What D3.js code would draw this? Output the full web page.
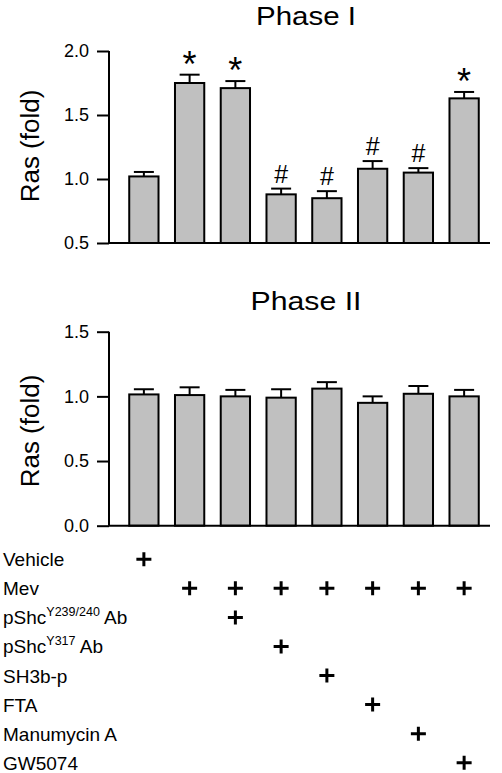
<!DOCTYPE html>
<html>
<head>
<meta charset="utf-8">
<script src="https://cdn.jsdelivr.net/npm/d3@7"></script>
<style>
  html, body { margin: 0; padding: 0; background: #fff; }
  svg { display: block; }
  svg text { font-family: "Liberation Sans", Arial, sans-serif; fill: #000; }
</style>
</head>
<body>
<svg id="chart" width="502" height="773"></svg>
<script>
// ---- data ----
const groups = ["G1", "G2", "G3", "G4", "G5", "G6", "G7", "G8"];
const phase1Values = [1.02, 1.75, 1.71, 0.88, 0.85, 1.08, 1.05, 1.63];
const phase1Errors = [0.035, 0.065, 0.055, 0.045, 0.055, 0.06, 0.035, 0.05];
const phase1Marks = ["", "*", "*", "#", "#", "#", "#", "*"];
const phase2Values = [1.015, 1.01, 1.0, 0.99, 1.06, 0.95, 1.02, 1.0];
const phase2Errors = [0.04, 0.06, 0.05, 0.065, 0.05, 0.05, 0.06, 0.05];
const phase1Ticks = [0.5, 1.0, 1.5, 2.0];
const phase2Ticks = [0.0, 0.5, 1.0, 1.5];
const treatments = ["Vehicle", "Mev", "pShc239", "pShc317", "SH3b-p", "FTA", "Manumycin A", "GW5074"];
const treatmentMatrix = [
  [1, 0, 0, 0, 0, 0, 0, 0],
  [0, 1, 1, 1, 1, 1, 1, 1],
  [0, 0, 1, 0, 0, 0, 0, 0],
  [0, 0, 0, 1, 0, 0, 0, 0],
  [0, 0, 0, 0, 1, 0, 0, 0],
  [0, 0, 0, 0, 0, 1, 0, 0],
  [0, 0, 0, 0, 0, 0, 1, 0],
  [0, 0, 0, 0, 0, 0, 0, 1]
];

const svg = d3.select("#chart");
const axisLeft = 109, axisRight = 490;
const x = d3.scaleBand().domain(groups).range([121, 487]).paddingInner(0.36).paddingOuter(0.18);

function panel(opts) {
  const { title, values, errors, marks, ticks, domain, yTop, yBottom } = opts;
  const y = d3.scaleLinear().domain(domain).range([yBottom, yTop]);
  const g = svg.append("g");

  // title
  g.append("text")
    .attr("x", 306).attr("y", opts.titleY)
    .attr("text-anchor", "middle")
    .attr("font-size", 26)
    .attr("textLength", opts.titleLen).attr("lengthAdjust", "spacingAndGlyphs")
    .text(title);

  // y label
  g.append("text")
    .attr("transform", `translate(39,${opts.labelY}) rotate(-90)`)
    .attr("text-anchor", "middle")
    .attr("font-size", 26)
    .text("Ras (fold)");

  // bars
  g.selectAll("rect.bar").data(values).join("rect")
    .attr("class", "bar")
    .attr("x", (d, i) => x(groups[i]))
    .attr("width", x.bandwidth())
    .attr("y", d => y(d))
    .attr("height", d => y(domain[0]) - y(d))
    .attr("fill", "#c0c0c0")
    .attr("stroke", "#000")
    .attr("stroke-width", 2);

  // error bars (upper)
  const cx = i => x(groups[i]) + x.bandwidth() / 2;
  g.selectAll("line.err").data(values).join("line")
    .attr("class", "err")
    .attr("x1", (d, i) => cx(i)).attr("x2", (d, i) => cx(i))
    .attr("y1", d => y(d)).attr("y2", (d, i) => y(d + errors[i]))
    .attr("stroke", "#000").attr("stroke-width", 2);
  g.selectAll("line.cap").data(values).join("line")
    .attr("class", "cap")
    .attr("x1", (d, i) => cx(i) - 10).attr("x2", (d, i) => cx(i) + 10)
    .attr("y1", (d, i) => y(d + errors[i])).attr("y2", (d, i) => y(d + errors[i]))
    .attr("stroke", "#000").attr("stroke-width", 2);

  // significance marks
  if (marks) {
    g.selectAll("text.mark").data(marks).join("text")
      .attr("class", "mark")
      .attr("x", (d, i) => cx(i))
      .attr("y", (d, i) => y(values[i] + errors[i]) + (d === "*" ? 2 : -6))
      .attr("text-anchor", "middle")
      .style("font-size", d => (d === "*" ? 36 : 25) + "px")
      .text(d => d);
  }

  // y axis
  const ax = g.append("g")
    .attr("transform", `translate(${axisLeft},0)`)
    .call(d3.axisLeft(y).tickValues(ticks).tickFormat(d3.format(".1f")).tickSize(12).tickPadding(8));
  ax.select(".domain").attr("stroke-width", 2).attr("d", `M0,${yTop}V${yBottom}`);
  ax.selectAll(".tick line").attr("stroke-width", 2);
  ax.selectAll(".tick text").style("font-size", "18px").attr("fill", "#000");

  // x axis baseline
  g.append("line")
    .attr("x1", axisLeft).attr("x2", axisRight)
    .attr("y1", yBottom).attr("y2", yBottom)
    .attr("stroke", "#000").attr("stroke-width", 2);
}

panel({ title: "Phase I", titleY: 25, titleLen: 100, labelY: 146, values: phase1Values, errors: phase1Errors,
        marks: phase1Marks, ticks: phase1Ticks, domain: [0.5, 2.0], yTop: 51, yBottom: 243 });
panel({ title: "Phase II", titleY: 310, titleLen: 111, labelY: 431, values: phase2Values, errors: phase2Errors,
        marks: null, ticks: phase2Ticks, domain: [0.0, 1.5], yTop: 331.7, yBottom: 525.7 });

// treatment table
const rowY = d3.scalePoint().domain(treatments).range([559.3, 762.7]);
const rows = svg.append("g");
const labels = rows.selectAll("text.row").data(treatments).join("text")
  .attr("class", "row")
  .attr("x", 3)
  .attr("y", d => rowY(d) + 7)
  .style("font-size", "19px");
labels.each(function (d) {
  const t = d3.select(this);
  if (d === "pShc239" || d === "pShc317") {
    t.append("tspan").text("pShc");
    t.append("tspan").style("font-size", "12.5px").attr("dy", -8).text(d === "pShc239" ? "Y239/240" : "Y317");
    t.append("tspan").attr("dy", 8).text(" Ab");
  } else {
    t.text(d);
  }
});

const plusData = [];
treatmentMatrix.forEach((row, r) => row.forEach((v, c) => { if (v) plusData.push({ r, c }); }));
rows.selectAll("path.plus").data(plusData).join("path")
  .attr("class", "plus")
  .attr("d", d => {
    const px = x(groups[d.c]) + x.bandwidth() / 2, py = rowY(treatments[d.r]);
    return `M${px - 7.5},${py}H${px + 7.5}M${px},${py - 7}V${py + 7}`;
  })
  .attr("stroke", "#000").attr("stroke-width", 3).attr("fill", "none");
</script>
</body>
</html>
